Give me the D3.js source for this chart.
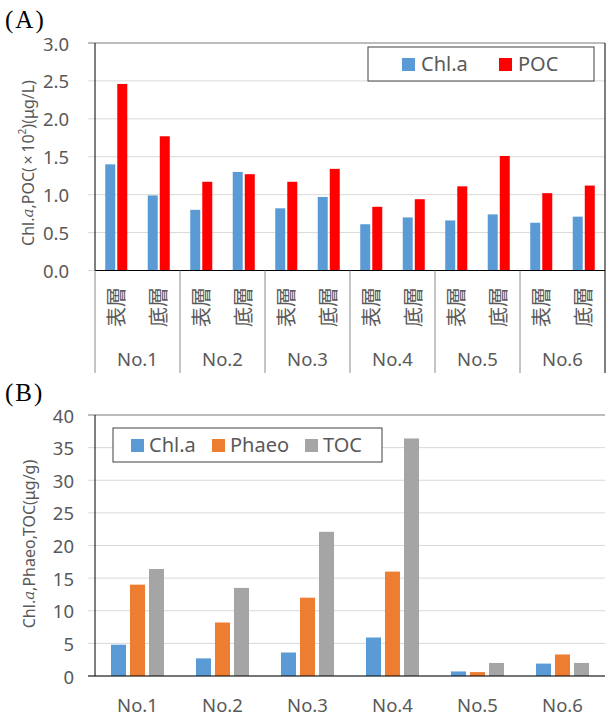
<!DOCTYPE html>
<html lang="ja">
	<head>
		<meta charset="utf-8">
		<title>Chl.a POC TOC</title>
		<script type="text/javascript" src="https://cdn.jsdelivr.net/npm/d3@7"></script>
		<style type="text/css">
			body{
				margin: 0px;
				overflow: hidden;
				background: #fff;
			}
			text{
				font-family: "Noto Sans", "Noto Sans CJK JP", sans-serif;
				fill: #595959;
			}
			.panel-label{
				font-family: "Liberation Serif", serif;
				font-size: 25px;
				fill: #000;
				letter-spacing: 2px;
			}
			.axis-title{
				font-size: 16px;
			}
			.legend text{
				font-size: 20px;
			}
			.grid line{
				stroke: #d9d9d9;
			}
		</style>
	</head>
	<body>
		<script type="text/javascript">

			// ---- data ----
			var stations = ['No.1', 'No.2', 'No.3', 'No.4', 'No.5', 'No.6'];
			var layers = ['表層', '底層'];

			// (A) water, per station: [表層, 底層]
			var chlA = [[1.40, 0.99], [0.80, 1.30], [0.82, 0.97], [0.61, 0.70], [0.66, 0.74], [0.63, 0.71]];
			var pocA = [[2.46, 1.77], [1.17, 1.27], [1.17, 1.34], [0.84, 0.94], [1.11, 1.51], [1.02, 1.12]];
			var seriesA = ['Chl.a', 'POC'];
			var colorsA = ['#5B9BD5', '#FF0000'];
			var yTicksA = [0, 0.5, 1.0, 1.5, 2.0, 2.5, 3.0];

			// (B) sediment
			var chlB = [4.8, 2.7, 3.6, 5.9, 0.7, 1.9];
			var phaeoB = [14.0, 8.2, 12.0, 16.0, 0.6, 3.3];
			var tocB = [16.4, 13.5, 22.1, 36.4, 2.0, 2.0];
			var seriesB = ['Chl.a', 'Phaeo', 'TOC'];
			var colorsB = ['#5B9BD5', '#ED7D31', '#A5A5A5'];
			var yTicksB = [0, 5, 10, 15, 20, 25, 30, 35, 40];

			var width = 606;
			var height = 718;

			var svg = d3.select("body")
						.append("svg")
						.attr("width", width)
						.attr("height", height);

			var left = 95, right = 605;

			//Draws the y axis, gridlines and frame lines for one panel
			function drawYAxis(g, yScale, ticks, fmt, top, bottom, labelEnd) {
				var grid = g.append('g').attr('class', 'grid');
				grid.selectAll('line')
					.data(ticks)
					.enter()
					.append('line')
					.attr('x1', left - 7)
					.attr('x2', right)
					.attr('y1', d => yScale(d))
					.attr('y2', d => yScale(d));

				// top border is a darker gray
				g.append('line')
					.attr('x1', left - 7).attr('x2', right)
					.attr('y1', top).attr('y2', top)
					.attr('stroke', '#8c8c8c');

				g.append('g')
					.selectAll('text')
					.data(ticks)
					.enter()
					.append('text')
					.attr('x', labelEnd)
					.attr('y', d => yScale(d))
					.attr('text-anchor', 'end')
					.attr('dominant-baseline', 'central')
					.style('font-size', '18.5px')
					.text(fmt);

				g.append('line')
					.attr('x1', left).attr('x2', left)
					.attr('y1', top).attr('y2', bottom)
					.attr('stroke', '#000');
			}

			// ================= (A) =================
			var topA = 43, bottomA = 270.5;
			var yA = d3.scaleLinear().domain([0, 3]).range([bottomA, topA]);
			var x0A = d3.scaleBand().domain(stations).range([left, right]);
			var x1A = d3.scaleBand().domain(layers).range([0, x0A.bandwidth()]);
			var x2A = d3.scaleBand().domain(seriesA).range([0, x1A.bandwidth()])
						.paddingInner(0.17).paddingOuter(0.85);

			var gA = svg.append('g');

			gA.append('text')
				.attr('class', 'panel-label')
				.attr('x', 5)
				.attr('y', 28)
				.text('(A)');

			drawYAxis(gA, yA, yTicksA, d3.format('.1f'), topA, bottomA, 69);

			var barsA = [];
			stations.forEach(function(s, i) {
				layers.forEach(function(l, j) {
					barsA.push({st: s, layer: l, series: 0, v: chlA[i][j]});
					barsA.push({st: s, layer: l, series: 1, v: pocA[i][j]});
				});
			});

			gA.selectAll('rect.bar')
				.data(barsA)
				.enter()
				.append('rect')
				.attr('class', 'bar')
				.attr('x', d => x0A(d.st) + x1A(d.layer) + x2A(seriesA[d.series]))
				.attr('y', d => yA(d.v))
				.attr('width', x2A.bandwidth())
				.attr('height', d => yA(0) - yA(d.v))
				.attr('fill', d => colorsA[d.series]);

			// x axis line + right border
			gA.append('line')
				.attr('x1', left).attr('x2', right)
				.attr('y1', bottomA).attr('y2', bottomA)
				.attr('stroke', '#000');
			gA.append('line')
				.attr('x1', right).attr('x2', right)
				.attr('y1', topA).attr('y2', 373)
				.attr('stroke', '#000');

			// category separators (multi-level axis)
			gA.selectAll('line.sep')
				.data(stations)
				.enter()
				.append('line')
				.attr('class', 'sep')
				.attr('x1', d => x0A(d))
				.attr('x2', d => x0A(d))
				.attr('y1', bottomA)
				.attr('y2', 373)
				.attr('stroke', '#8c8c8c');

			// layer labels, rotated
			var layerLabels = [];
			stations.forEach(function(s) {
				layers.forEach(function(l) { layerLabels.push({st: s, layer: l}); });
			});
			gA.selectAll('text.layer')
				.data(layerLabels)
				.enter()
				.append('text')
				.attr('class', 'layer')
				.attr('transform', d => 'translate(' + (x0A(d.st) + x1A(d.layer) + x1A.bandwidth() / 2 - 1) + ',307) rotate(-90)')
				.attr('text-anchor', 'middle')
				.attr('dominant-baseline', 'central')
				.style('font-family', '"Noto Sans CJK JP", sans-serif')
				.style('font-size', '20px')
				.text(d => d.layer);

			gA.selectAll('text.station')
				.data(stations)
				.enter()
				.append('text')
				.attr('class', 'station')
				.attr('x', d => x0A(d) + x0A.bandwidth() / 2)
				.attr('y', 366)
				.attr('text-anchor', 'middle')
				.style('font-size', '18.5px')
				.text(d => d);

			// y title A
			var titleA = gA.append('text')
				.attr('class', 'axis-title')
				.attr('transform', 'translate(28,163) rotate(-90)')
				.attr('text-anchor', 'middle')
				.attr('dominant-baseline', 'central');
			titleA.append('tspan').text('Chl.');
			titleA.append('tspan').style('font-style', 'italic').style('font-family', '"DejaVu Serif", serif').style('font-size', '15px').text('a');
			titleA.append('tspan').text(',POC(\u2009×\u200910');
			titleA.append('tspan').attr('dy', -6).style('font-size', '10px').text('2');
			titleA.append('tspan').attr('dy', 6).text(')(μg/L)');

			// legend A
			var legA = gA.append('g').attr('class', 'legend');
			legA.append('rect')
				.attr('x', 368).attr('y', 47)
				.attr('width', 226).attr('height', 34)
				.attr('fill', '#fff')
				.attr('stroke', '#404040');
			var legAx = [402, 499];
			seriesA.forEach(function(s, i) {
				legA.append('rect')
					.attr('x', legAx[i]).attr('y', 58)
					.attr('width', 13).attr('height', 13)
					.attr('fill', colorsA[i]);
				legA.append('text')
					.attr('x', legAx[i] + 19).attr('y', 71)
					.text(s);
			});

			// ================= (B) =================
			var topB = 415, bottomB = 676;
			var yB = d3.scaleLinear().domain([0, 40]).range([bottomB, topB]);
			var x0B = d3.scaleBand().domain(stations).range([left, right]);
			var x1B = d3.scaleBand().domain(seriesB).range([0, x0B.bandwidth()])
						.paddingInner(0.21).paddingOuter(0.84);

			var gB = svg.append('g');

			gB.append('text')
				.attr('class', 'panel-label')
				.attr('x', 5)
				.attr('y', 401)
				.text('(B)');

			drawYAxis(gB, yB, yTicksB, d3.format('d'), topB, bottomB, 74);

			var valsB = [chlB, phaeoB, tocB];
			var barsB = [];
			stations.forEach(function(s, i) {
				seriesB.forEach(function(k, j) {
					barsB.push({st: s, series: j, v: valsB[j][i]});
				});
			});

			gB.selectAll('rect.bar')
				.data(barsB)
				.enter()
				.append('rect')
				.attr('class', 'bar')
				.attr('x', d => x0B(d.st) + x1B(seriesB[d.series]))
				.attr('y', d => yB(d.v))
				.attr('width', x1B.bandwidth())
				.attr('height', d => yB(0) - yB(d.v))
				.attr('fill', d => colorsB[d.series]);

			gB.append('line')
				.attr('x1', left - 7).attr('x2', right)
				.attr('y1', bottomB).attr('y2', bottomB)
				.attr('stroke', '#000');

			gB.selectAll('text.station')
				.data(stations)
				.enter()
				.append('text')
				.attr('class', 'station')
				.attr('x', d => x0B(d) + x0B.bandwidth() / 2)
				.attr('y', 712)
				.attr('text-anchor', 'middle')
				.style('font-size', '18.5px')
				.text(d => d);

			var titleB = gB.append('text')
				.attr('class', 'axis-title')
				.attr('transform', 'translate(29,544) rotate(-90)')
				.attr('text-anchor', 'middle')
				.attr('dominant-baseline', 'central');
			titleB.append('tspan').text('Chl.');
			titleB.append('tspan').style('font-style', 'italic').style('font-family', '"DejaVu Serif", serif').style('font-size', '15px').text('a');
			titleB.append('tspan').text(',Phaeo,TOC(μg/g)');

			// legend B
			var legB = gB.append('g').attr('class', 'legend');
			legB.append('rect')
				.attr('x', 113).attr('y', 428)
				.attr('width', 269).attr('height', 34)
				.attr('fill', '#fff')
				.attr('stroke', '#404040');
			var legBx = [131, 212, 305];
			seriesB.forEach(function(s, i) {
				legB.append('rect')
					.attr('x', legBx[i]).attr('y', 439)
					.attr('width', 13).attr('height', 13)
					.attr('fill', colorsB[i]);
				legB.append('text')
					.attr('x', legBx[i] + 18).attr('y', 452)
					.text(s);
			});

		</script>
	</body>
</html>
